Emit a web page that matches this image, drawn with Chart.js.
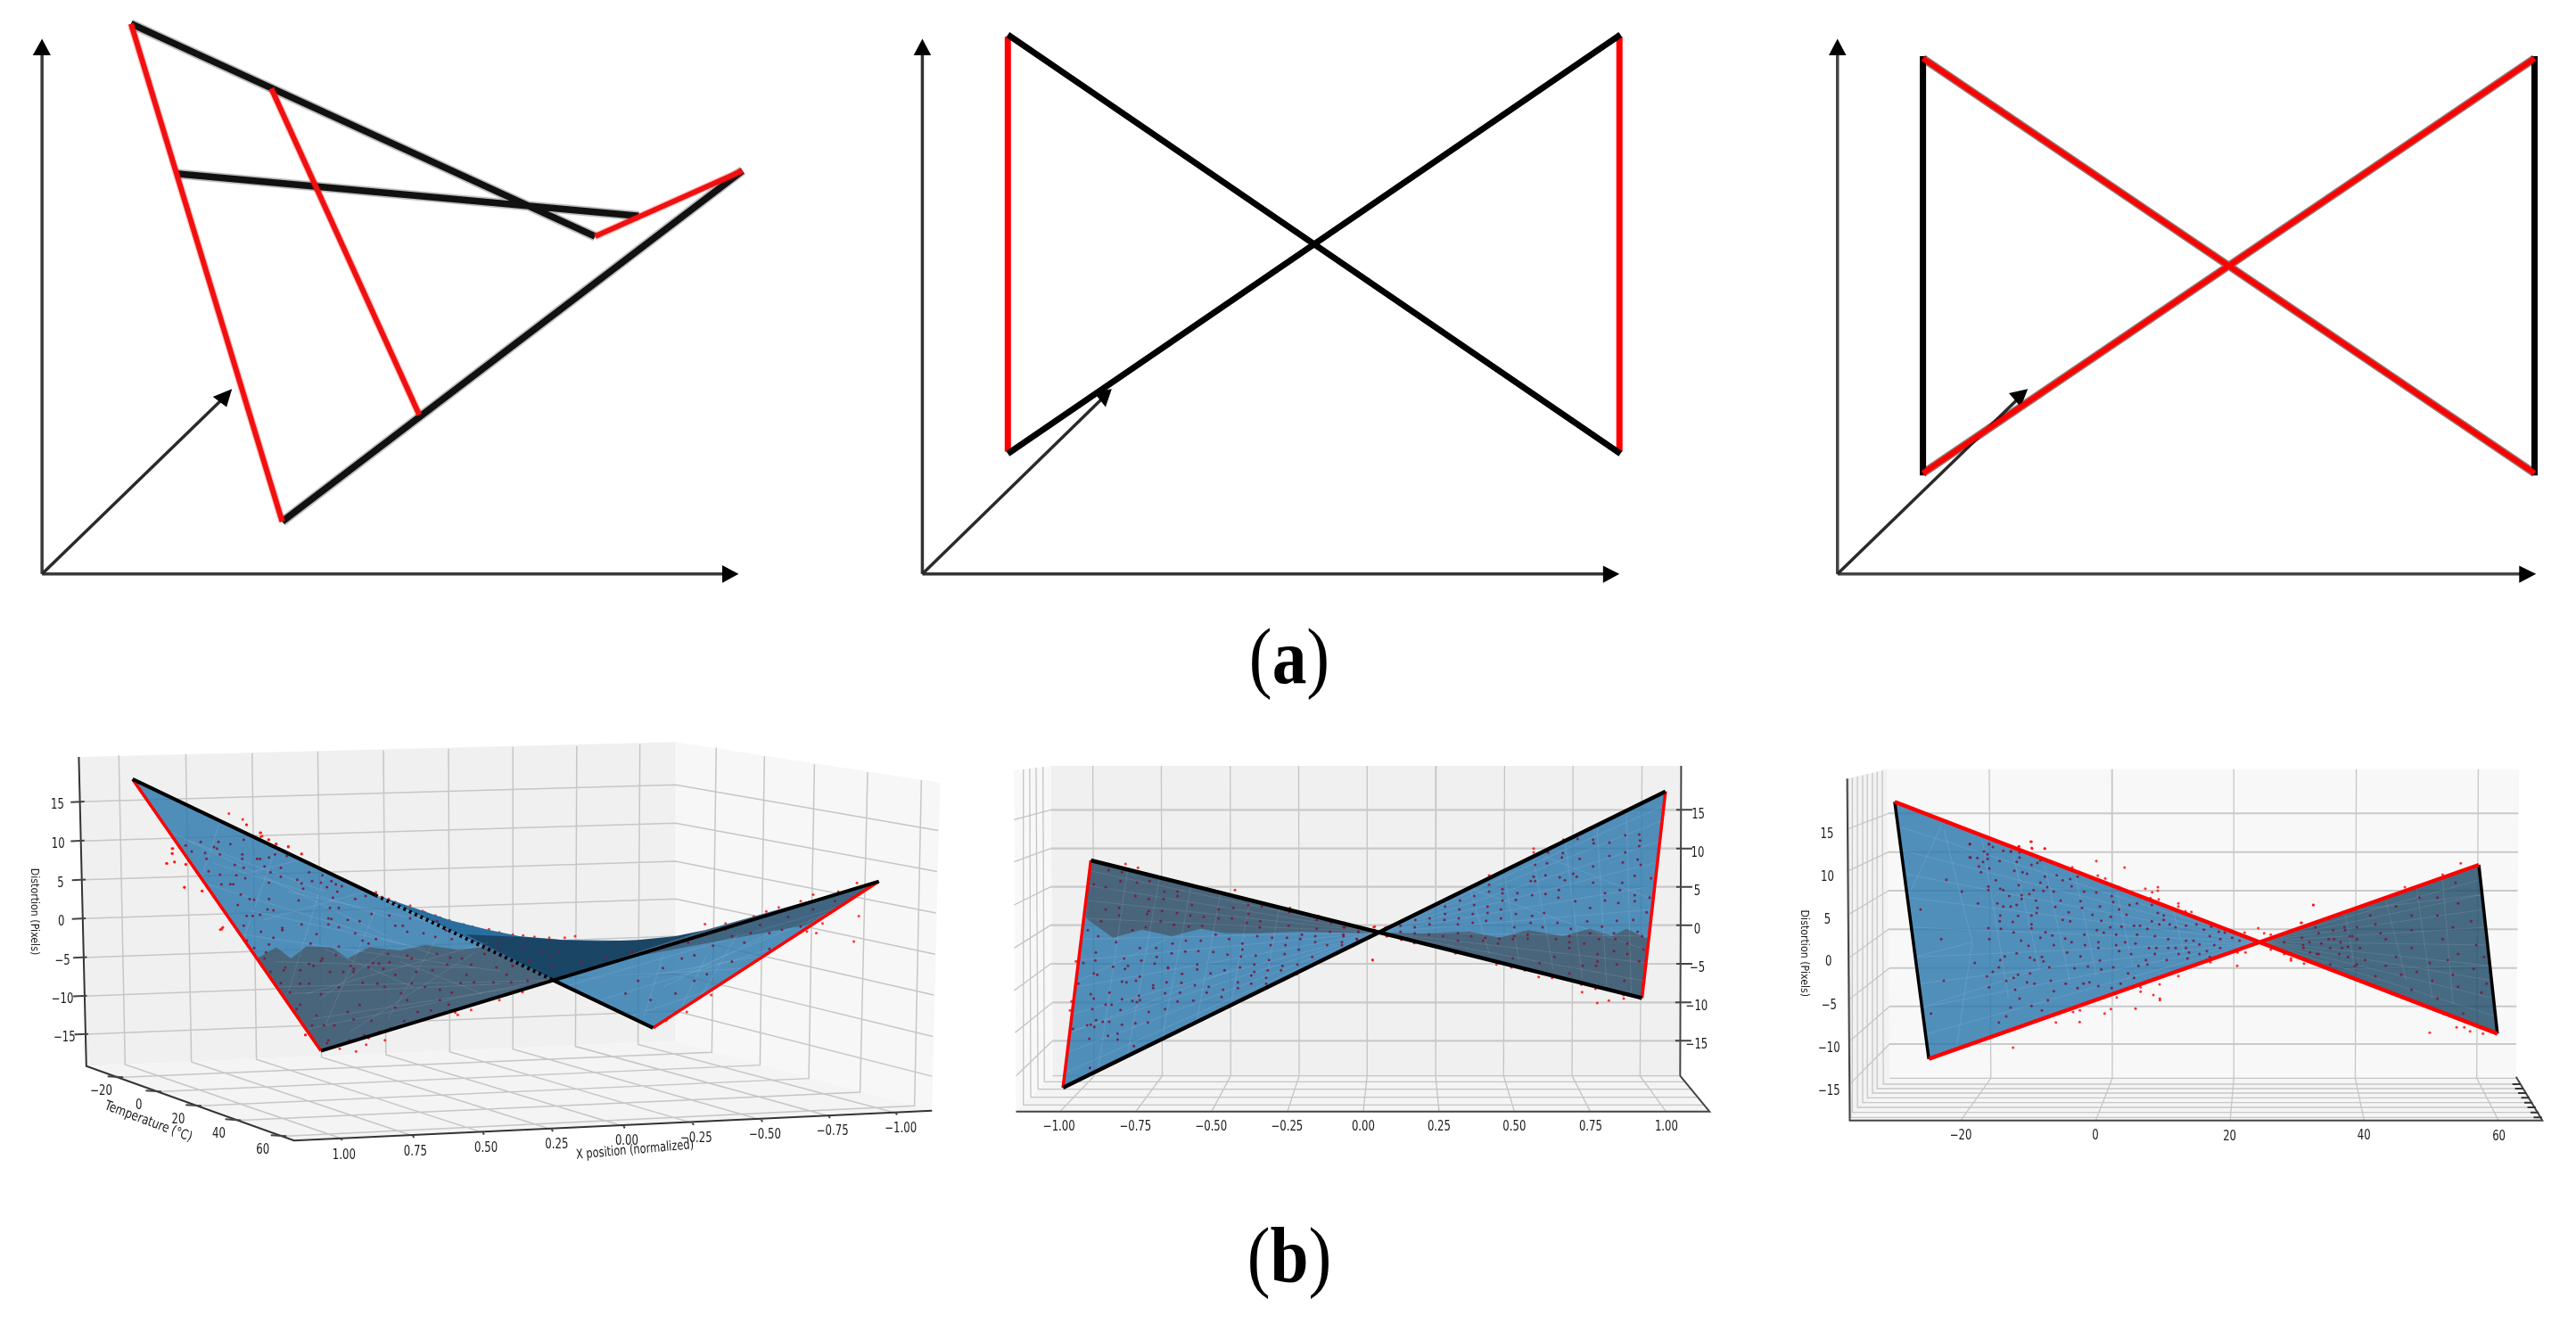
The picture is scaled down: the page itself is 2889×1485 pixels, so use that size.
<!DOCTYPE html>
<html>
<head>
<meta charset="utf-8">
<title>Distortion surface</title>
<script src="https://cdn.jsdelivr.net/npm/chart.js@4/dist/chart.umd.js"></script>
<style>
  html, body { margin: 0; padding: 0; background: #fff; }
  #wrap { position: relative; width: 2889px; height: 1485px; overflow: hidden; }
  canvas { display: block; }
  .tag { position: absolute; left: 1346px; width: 200px; text-align: center; line-height: 100px;
         font-family: "Liberation Serif", serif; font-size: 88px; color: #000; transform: scaleX(0.88); }
</style>
</head>
<body>
<div id="wrap">
  <canvas id="fig" width="2889" height="1485"></canvas>
  <div class="tag" style="top:687px">(<b>a</b>)</div>
  <div class="tag" style="top:1359px">(<b>b</b>)</div>
</div>
<script>
// panel (a), sketches
const a1Axes = [[[77,1328],[77,120]], [[77,1328],[1325,1328]]];
const a1Diag = [[77,1328],[410,920]];
const a1Heads = [[[77,90],[60,128],[93,128]], [[1353,1328],[1323,1308],[1323,1349]], [[425,900],[390,918],[415,942]]];
const a1Black = [[[240,55],[1090,547]], [[517,1207],[1360,395]], [[322,402],[1170,500]]];
const a1Red = [[[240,55],[517,1207]], [[497,205],[768,960]], [[1090,547],[1360,395]]];

const a2Axes = [[[60,1328],[60,120]], [[60,1328],[1395,1328]]];
const a2Diag = [[60,1328],[415,918]];
const a2Heads = [[[60,90],[43,128],[77,128]], [[1422,1328],[1390,1309],[1390,1349]], [[430,900],[395,908],[418,942]]];
const a2Black = [[[227,80],[1424,1050]], [[227,1050],[1424,80]]];
const a2Red = [[[227,85],[227,1045]], [[1422,85],[1422,1045]]];

const a3Axes = [[[125,1328],[125,120]], [[125,1328],[1460,1328]]];
const a3Diag = [[125,1328],[482,918]];
const a3Heads = [[[125,90],[108,128],[142,128]], [[1490,1328],[1457,1309],[1457,1349]], [[497,900],[460,910],[483,942]]];
const a3Black = [[[292,130],[292,1100]], [[1487,130],[1487,1100]]];
const a3Red = [[[292,135],[1487,1095]], [[292,1095],[1487,135]]];

// panel (b), left view
const b1BackWall = [[126,137],[1080,90],[1080,1030],[138,1108]];
const b1SideWall = [[1080,90],[1503,218],[1490,1248],[1080,1030]];
const b1Floor = [[138,1108],[1080,1030],[1490,1248],[470,1342]];
const b1Grid = [
  [[126,278],[1080,225],[1500,368]], [[130,401],[1080,345],[1498,497]], [[133,523],[1080,465],[1496,627]],
  [[133,645],[1080,583],[1495,757]], [[135,767],[1080,700],[1493,885]], [[135,888],[1080,818],[1491,1015]],
  [[137,1008],[1080,935],[1490,1140]],
  [[190,132],[200,1103],[545,1335]], [[297,128],[306,1095],[660,1327]], [[403,125],[410,1087],[772,1317]],
  [[508,120],[514,1080],[882,1307]], [[613,116],[617,1072],[997,1297]], [[717,111],[719,1063],[1107,1287]],
  [[820,106],[820,1055],[1217,1277]], [[922,102],[920,1046],[1325,1265]], [[1023,97],[1020,1040],[1432,1255]],
  [[1145,108],[1138,1065],[197,1143]], [[1222,135],[1215,1105],[258,1188]], [[1302,160],[1293,1147],[322,1233]],
  [[1387,185],[1375,1190],[385,1278]], [[1473,210],[1462,1233],[458,1328]]
];
const b1Frame = [[[126,137],[138,1108],[470,1342],[1490,1248]]];
const b1Ticks = [
  [[113,279],[135,277]], [[113,402],[135,400]], [[115,524],[137,522]], [[115,646],[137,644]], [[117,768],[139,766]],
  [[117,889],[139,887]], [[119,1009],[141,1007]],
  [[172,1140],[197,1143]], [[233,1185],[258,1188]], [[297,1230],[322,1233]], [[360,1275],[385,1278]], [[433,1325],[458,1328]],
  [[545,1335],[547,1341]], [[660,1327],[662,1333]], [[772,1317],[774,1323]], [[882,1307],[884,1313]], [[997,1297],[999,1303]],
  [[1107,1287],[1109,1293]], [[1217,1277],[1219,1283]], [[1325,1265],[1327,1271]], [[1432,1255],[1434,1261]]
];
const b1LeftFace = [[212,207],[513,1060],[885,838]];
const b1LeftShade = [[411,770],[442,735],[465,770],[490,732],[530,735],[556,770],[590,735],[640,745],[680,728],[730,742],[780,735],[885,838],[513,1060]];
const b1RightFace = [[1405,528],[1044,988],[885,838],[1130,680]];
const b1RightShade = [[1130,680],[1405,528],[1290,665],[1150,715],[1000,770],[960,790]];
const b1SaddleMid = [[600,570],[660,610],[720,650],[780,680],[830,700],[900,712],[1000,714],[885,838]];
const b1SaddleDark = [[745,695],[830,702],[900,712],[960,716],[1020,712],[1080,700],[1130,680],[885,838]];
const b1Mesh = [
  [[270,370],[620,700]], [[320,530],[700,760]], [[370,690],[800,810]], [[430,860],[885,838]], [[470,1000],[840,850]],
  [[350,350],[310,590]], [[440,430],[380,760]], [[520,500],[460,880]], [[600,620],[520,980]], [[700,700],[620,960]],
  [[420,650],[620,540]], [[490,880],[780,720]], [[1340,610],[900,860]], [[1250,730],[960,900]], [[1150,860],[1010,950]],
  [[1180,690],[1120,890]], [[1060,760],[1030,950]], [[1300,640],[1240,760]],
  [[300,400],[520,560]], [[340,470],[620,640]], [[400,620],[680,740]], [[440,780],[760,800]], [[470,880],[800,850]], [[500,960],[830,860]],
  [[520,740],[660,860]], [[620,740],[510,900]], [[760,750],[560,1000]], [[640,780],[770,880]], [[400,500],[560,420]], [[460,560],[700,660]],
  [[1320,630],[1100,810]], [[1240,680],[1060,860]], [[1280,740],[1020,830]], [[1200,800],[940,830]], [[1130,760],[1090,920]]
];
const b1EdgesBlack = [[[212,207],[600,571]], [[885,839],[1044,988]], [[513,1060],[1405,528]]];
const b1EdgesDotted = [[[600,571],[885,839]]];
const b1EdgesRed = [[[212,207],[513,1060]], [[1044,988],[1405,528]]];
const b1PointsOutside = [
  [366,315],[388,333],[394,350],[417,375],[417,388],[430,397],[441,410],[461,420],[482,442],[275,425],[275,440],[267,472],
  [279,467],[297,475],[295,547],[323,558],[355,675],[352,680],[1127,662],[1160,660],
  [1185,658],[1205,638],[1225,622],[1245,610],[1280,590],[1300,570],[1340,560],[1370,533],[1373,637],[1365,717],[1290,685],
  [1305,690],[1315,660],[1137,885],[1098,938],[1065,965],[488,1010]
];
const b1PointsInside = [
  [1250,680],[1200,690],[1170,700],[1140,730],[1110,760],[1060,800],[1020,840],[1000,880],[1080,880],[1130,820],
  [1170,780],[1230,740],[1280,670],[880,760],[930,780],[970,770],[1010,750],[1060,730],[1100,720],[1190,720],[1215,665],
  [1260,640],[1300,615],[1335,590],[1270,700],[1110,840],[1040,900],[1090,770],[1160,680],[1230,690]
];
const b1cPointsInside = [
  [410,465],[480,495],[475,505],[530,505],[560,483],[605,465],[600,473],[650,453],[700,490],[710,500],[775,480],[795,482],[825,450],[830,478],
  [890,455],[905,465],[990,450],[1035,462],[1075,465],[1105,485],[1190,495],[1245,490],[1225,520],[1240,545],[1295,540],[1180,545],[1115,545],
  [1090,520],[1025,485],[975,505],[920,510],[850,520],[810,500],[760,495],[710,510],[675,510],[630,510],[575,490],[530,550],[560,550],[600,585],
  [660,562],[740,547],[790,550],[815,560],[905,548],[950,560],[1000,570],[1040,580],[1070,548],[970,640],[1030,620],[925,645],[890,605],[870,582],
  [850,630],[1000,605],[880,675],[835,700],[770,675],[730,622],[690,645],[710,670],[610,690],[585,657],[570,690],[530,620],[518,635],[495,578],
  [465,548],[430,510],[625,740],[620,750],[745,723],[795,712],[695,740],[645,690],
  [195,73],[255,73],[240,90],[250,95],[295,80],[340,65],[145,85],[165,105],[210,110],[260,115],[335,115],[335,130],[385,130],[395,130],[425,125],
  [445,115],[485,120],[215,130],[310,150],[340,160],[410,155],[430,175],[465,160],[222,172],[260,183],[315,185],[345,195],[465,190],[560,175],
  [605,185],[520,200],[265,215],[295,215],[305,215],[535,212],[570,205],[600,210],[635,205],[650,215],[670,222],[655,240],[620,225],[540,230],
  [425,210],[330,250],[360,265],[375,267],[425,265],[525,270],[420,300],[440,303],[320,285],[350,322],[370,322],[395,318],[630,295],[660,295],
  [640,260],[715,265],[750,255],[770,315],[730,340],[690,335],[625,330],[635,332],[535,350],[470,362],[470,370],[340,355],[398,375],[350,405],
  [375,430],[425,418],[440,395],[415,445],[585,383],[625,350],[660,360],[715,380],[740,405],[785,400],[760,415],[850,355],[875,355],[890,375],
  [945,380],[985,392],[1020,370],[1040,400],[990,340],[900,330],[830,320],[660,425],[565,415],
  [1150,450],[1200,440],[1280,430],[1340,440],[1400,440],[1200,415],[1150,420],[1300,470],[1380,490],[1240,470]
];
const b1cPointsOutside = [
  [395,42],[402,53],[423,65],[450,80],[490,88],[535,113],[350,15],[102,95],[100,112],[107,140],[80,145],[145,148],[140,225],[200,238],[265,367],
  [270,360],[785,242],[805,258],[828,265],[850,275],[900,287],[942,305],[950,310],[985,320],[1000,327],[1032,337],[1080,350],[1110,358],[1165,367],
  [1200,377],[1245,385],[1280,388],[1318,392],[1368,395],[1420,395],[1455,390],[548,722],[663,769],[718,778],[752,755],[760,733],[815,740],
  [1052,647],[1060,655],[1105,638],[1200,605],[1278,578]
];
const b1TickZ = ['15','10','5','0','\u22125','\u221210','\u221215'];
const b1TickZPos = [[92,290],[93,413],[97,535],[98,655],[100,778],[100,898],[103,1020]];
const b1TickT = ['\u221220','0','20','40','60'];
const b1TickTPos = [[162,1188],[222,1233],[285,1278],[350,1323],[420,1373]];
const b1TickX = ['1.00','0.75','0.50','0.25','0.00','\u22120.25','\u22120.50','\u22120.75','\u22121.00'];
const b1TickXPos = [[550,1388],[664,1377],[777,1366],[890,1356],[1002,1344],[1113,1335],[1223,1325],[1331,1314],[1440,1305]];

// panel (b), front view
const b2BackWall = [[143,117],[1432,117],[1428,1160],[147,1160]];
const b2SideWall = [[68,132],[143,117],[147,1160],[72,1280]];
const b2Floor = [[147,1160],[1428,1160],[1490,1280],[72,1280]];
const b2GridMajor = [
  [[143,265],[1432,265]], [[143,395],[1432,395]], [[143,524],[1432,524]], [[143,653],[1432,653]],
  [[143,783],[1432,783]], [[147,913],[1430,913]], [[147,1042],[1430,1042]]
];
const b2Grid = [
  [[229,117],[232,1160],[162,1280]], [[369,117],[371,1160],[317,1280]], [[510,117],[511,1160],[472,1280]],
  [[650,117],[651,1160],[627,1280]], [[790,117],[790,1160],[782,1280]], [[931,117],[930,1160],[937,1280]],
  [[1071,117],[1069,1160],[1091,1280]], [[1211,117],[1209,1160],[1246,1280]], [[1352,117],[1348,1160],[1401,1280]],
  [[127,120],[130,1180],[1442,1180]], [[113,123],[117,1205],[1455,1205]], [[100,126],[102,1232],[1468,1232]], [[87,129],[87,1258],[1480,1258]],
  [[143,265],[68,298]], [[143,395],[68,440]], [[143,524],[68,585]], [[143,653],[68,730]], [[143,783],[68,873]],
  [[147,913],[70,1015]], [[147,1042],[72,1160]], [[147,1160],[1428,1160]]
];
const b2Frame = [[[1432,117],[1430,1160],[1490,1280],[72,1280]]];
const b2Ticks = [
  [[1422,265],[1455,265]], [[1422,395],[1455,395]], [[1422,524],[1455,524]], [[1422,653],[1455,653]],
  [[1422,783],[1455,783]], [[1420,913],[1453,913]], [[1420,1042],[1453,1042]]
];
const b2LeftFace = [[225,435],[168,1200],[815,677]];
const b2LeftShade = [[225,435],[815,677],[790,680],[650,675],[560,680],[500,680],[450,665],[390,690],[330,668],[270,695],[215,630]];
const b2RightFace = [[1400,203],[1352,898],[815,677]];
const b2RightShade = [[815,677],[900,680],[1000,675],[1060,695],[1120,670],[1190,690],[1245,665],[1290,690],[1320,665],[1365,700],[1352,898]];
const b2Mesh = [
  [[215,630],[815,677]], [[205,770],[815,677]], [[190,950],[815,677]], [[180,1080],[815,677]], [[220,520],[815,677]],
  [[1395,300],[815,677]], [[1385,440],[815,677]], [[1375,600],[815,677]], [[1360,780],[815,677]],
  [[300,470],[240,1140]], [[430,520],[370,1040]], [[550,570],[510,930]], [[1000,530],[1040,750]], [[1130,430],[1170,800]], [[1260,320],[1280,860]],
  [[200,840],[380,700]], [[190,1010],[520,800]], [[1150,420],[1365,560]], [[1000,530],[1350,730]],
  [[210,700],[815,677]], [[198,860],[815,677]], [[185,1010],[815,677]], [[172,1150],[815,677]], [[222,470],[815,677]], [[218,570],[815,677]],
  [[1398,250],[815,677]], [[1390,370],[815,677]], [[1380,520],[815,677]], [[1368,690],[815,677]], [[1356,840],[815,677]],
  [[365,495],[300,1090]], [[490,545],[440,990]], [[610,595],[580,870]], [[1070,480],[1100,770]], [[1195,375],[1230,830]], [[1320,270],[1330,880]]
];
const b2EdgesBlack = [[[225,435],[1352,898]], [[168,1200],[1400,203]]];
const b2EdgesRed = [[[225,435],[168,1200]], [[1400,203],[1352,898]]];
const b2lPointsInside = [
  [160,78],[205,85],[298,115],[255,120],[348,150],[392,150],[392,165],[345,175],[295,175],[250,165],[200,115],[110,125],[150,135],[195,205],[195,230],
  [150,210],[295,215],[290,225],[340,215],[390,222],[440,195],[435,230],[480,235],[530,210],[580,205],[630,195],[630,225],[675,200],[670,250],[668,270],
  [625,255],[575,240],[530,240],[768,220],[765,265],[860,245],[860,275],[908,255],[905,285],[950,270],[950,295],[945,320],[1000,285],[995,310],[855,300],
  [855,320],[810,295],[805,310],[760,305],[755,330],[710,305],[705,330],[660,300],[610,325],[610,345],[565,310],[520,295],[470,315],[420,315],[375,325],
  [320,340],[265,340],[185,320],[125,300],[90,280],[135,250],[240,280],[285,270],[335,250],[380,262],[430,268],[475,265],
  [117,355],[75,390],[115,382],[175,403],[212,375],[215,410],[225,400],[270,382],[315,392],[322,370],[360,405],[372,358],[418,352],[462,350],[512,353],
  [560,362],[605,368],[655,365],[700,380],[752,360],[800,345],[845,370],[895,330],[795,395],[745,400],[740,415],[695,415],[650,395],[650,420],[602,405],
  [550,415],[503,425],[458,395],[458,412],[407,427],[360,408],[265,436],[110,425],[122,430],[205,453],[220,455],[252,450],[310,465],[355,455],[405,457],
  [450,465],[497,470],[545,480],[595,455],[595,475],[640,460],[690,460],[640,432],[690,440],[400,490],[350,492],[310,475],[262,500],[205,512],[163,490],
  [100,495],[110,510],[150,530],[170,530],[240,518],[255,522],[265,515],[295,555],[350,545],[392,520],[445,517],[490,490],[540,505],[200,548],[105,545],
  [118,583],[140,588],[162,588],[88,600],[100,598],[112,605],[205,598],[250,593],[292,590],[158,635],[190,628],[190,648],[95,645],[245,670],[97,743],
  [40,612],[58,460]
];
const b2lPointsOutside = [
  [217,57],[259,70],[492,140],[585,145],[770,205],[865,232],[953,255],[50,385],[35,520],[30,550],[1048,380],[793,428],[1052,270],[1095,270],[1097,300],
  [1145,310],[1190,322]
];
// and of the right half
const b2rPointsInside = [
  [510,337],[555,352],[510,360],[555,365],[555,390],[605,365],[600,388],[655,372],[660,310],[665,325],[665,270],[708,228],[705,265],[755,245],[758,230],
  [808,183],[860,185],[862,197],[915,195],[968,170],[1015,168],[1018,188],[1015,207],[968,228],[915,240],[860,275],[815,250],[765,322],[805,310],[748,312],
  [793,300],[700,305],[650,325],[960,262],[1010,252],[1020,270],[1000,307],[958,330],[1055,315],[1050,380],[1000,372],[950,355],[900,365],[860,330],[745,355],
  [700,368],[743,380],[800,392],[850,415],[945,398],[1000,392],[900,390],[695,432],[655,442],[600,435],[550,420],[505,410],[505,432],[460,375],[460,405],
  [412,390],[410,420],[362,410],[362,435],[310,450],[310,470],[262,455],[260,480],[212,475],[212,495],[360,455],[408,450],[405,470],[455,435],[455,465],
  [500,458],[550,450],[595,480],[650,465],[690,480],[740,465],[785,485],[840,460],[890,478],[940,458],[995,455],[1040,430],[1010,495],[930,500],[850,500],
  [780,510],[640,505],[595,510],[545,518],[497,515],[450,510],[405,500],[355,510],[308,505],[260,500],[405,525],[490,525],[540,535],[590,520],[640,518],
  [735,520],[780,530],[830,535],[880,520],[935,520],[975,535],[1025,510],[1030,555],[975,570],[930,560],[875,570],[780,550],[730,580],[680,600],[590,585],
  [825,610],[870,610],[940,605],[1015,595],[965,660],[780,635],[875,595],[25,480],[20,510],[15,540],[70,495],[65,520],[125,490]
];
const b2rPointsOutside = [
  [660,215],[660,228],[510,305],[760,185],[118,590],[160,482],[125,478],[165,510],[258,533],[397,568],[535,605],[585,615],[630,625],[677,647],[722,650],
  [820,673],[868,687],[823,698],[874,735],[913,727],[962,708],[963,720],[215,522]
];
const b2TickX = ['\u22121.00','\u22120.75','\u22120.50','\u22120.25','0.00','0.25','0.50','0.75','1.00'];
const b2TickXPos = [[160,1333],[316,1333],[471,1333],[626,1333],[782,1333],[937,1333],[1091,1333],[1247,1333],[1402,1333]];
const b2TickZ = ['15','10','5','0','\u22125','\u221210','\u221215'];
const b2TickZPos = [[1467,282],[1466,410],[1465,540],[1465,668],[1465,797],[1464,927],[1464,1055]];

// panel (b), side view
const b3BackWall = [[235,128],[1458,128],[1452,1168],[240,1168]];
const b3SideWall = [[158,160],[235,128],[240,1168],[163,1310]];
const b3Floor = [[240,1168],[1452,1168],[1503,1310],[163,1310]];
const b3GridMajor = [
  [[238,277],[1456,277]], [[238,407],[1456,407]], [[238,537],[1455,537]], [[238,667],[1455,667]],
  [[240,797],[1454,797]], [[240,926],[1453,926]], [[240,1053],[1452,1053]]
];
const b3Grid = [
  [[433,128],[436,1168],[378,1310]], [[670,128],[671,1168],[639,1310]], [[906,128],[906,1168],[899,1310]],
  [[1143,128],[1141,1168],[1158,1310]], [[1379,128],[1376,1168],[1418,1310]],
  [[226,133],[228,1188],[1458,1188]], [[216,137],[216,1203],[1464,1203]], [[207,141],[207,1218],[1470,1218]],
  [[197,145],[197,1234],[1476,1234]], [[188,149],[188,1250],[1482,1250]], [[178,153],[178,1266],[1488,1266]],
  [[168,157],[168,1283],[1494,1283]], [[160,159],[165,1300],[1500,1300]],
  [[238,277],[158,330]], [[238,407],[158,472]], [[238,537],[158,620]], [[238,667],[160,765]], [[240,797],[160,905]],
  [[240,926],[162,1045]], [[240,1053],[162,1190]], [[240,1168],[1452,1168]]
];
const b3Frame = [[[158,160],[163,1310],[1503,1310],[1452,1163]]];
const b3Ticks = [
  [[1445,1188],[1460,1188]], [[1450,1203],[1466,1203]], [[1456,1218],[1472,1218]], [[1462,1234],[1478,1234]],
  [[1468,1250],[1484,1250]], [[1474,1266],[1490,1266]], [[1480,1283],[1496,1283]], [[1486,1300],[1502,1300]]
];
const b3LeftFace = [[250,238],[316,1103],[956,708]];
const b3RightFace = [[1380,450],[1416,1018],[956,708]];
const b3Mesh = [
  [[262,400],[956,708]], [[275,560],[956,708]], [[290,760],[956,708]], [[303,930],[956,708]], [[1387,550],[956,708]],
  [[1395,660],[956,708]], [[1404,790],[956,708]], [[1410,900],[956,708]],
  [[340,320],[275,560]], [[345,330],[400,710]], [[400,710],[290,760]], [[400,710],[370,1060]], [[480,420],[530,800]], [[600,490],[640,820]],
  [[1200,570],[1240,840]], [[1310,500],[1330,920]], [[530,800],[303,930]], [[1100,610],[1387,550]], [[1120,800],[1404,790]],
  [[255,320],[956,708]], [[268,480],[956,708]], [[282,660],[956,708]], [[296,850],[956,708]], [[310,1020],[956,708]],
  [[1383,500],[956,708]], [[1391,600],[956,708]], [[1400,720],[956,708]], [[1407,840],[956,708]], [[1413,960],[956,708]],
  [[420,370],[470,900]], [[540,450],[590,850]], [[680,540],[710,790]], [[790,610],[810,750]], [[1120,600],[1140,800]], [[1260,530],[1290,900]]
];
const b3EdgesBlack = [[[250,238],[316,1103]], [[1380,450],[1416,1018]]];
const b3EdgesRed = [[[250,238],[1416,1018]], [[316,1103],[1380,450]]];
const b3PointsOutside = [
  [513,372],[515,393],[540,395],[490,388],[1060,585],[1345,445],[1310,483],[1237,525],[1037,645],[1285,1015],[1337,997],[1352,997],[1363,1010],[1388,1018]
];
const b3PointsInside = [
  [1335,510],[1300,560],[1220,590],[1170,620],[1120,660],[1070,680],[1040,720],[1100,700],[1150,730],[1200,700],
  [1250,670],[1300,620],[1330,660],[1375,720],[1340,750],[1285,780],[1220,760],[1160,770],[1110,750],[1070,750],[1180,825],
  [1230,820],[1290,840],[1330,820],[1395,850],[1250,870],[1300,900],[1350,950],[1385,880],[1340,860],[1390,760],
  [1180,650],[1130,690],[1250,620],[1265,560],[1340,580],[1365,640],[1140,790],[1200,790],[1260,810],[1320,770],[1370,800],
  [1310,700],[1250,730],[1190,680],[395,380],[432,380],[475,405],[395,425],[300,600],[350,500],[340,700],[345,840],[320,950],
  [380,540],[405,780]
];
const b3cPointsInside = [
  [178,140],[225,165],[243,140],[255,150],[290,163],[315,165],[345,168],[180,185],[203,187],[237,175],[237,190],[222,200],[208,215],[215,235],[243,222],
  [278,197],[335,200],[345,185],[385,210],[405,203],[415,195],[327,230],[355,235],[370,240],[430,250],[470,245],[490,262],[515,258],[540,250],[265,262],
  [240,283],[240,295],[280,290],[290,295],[342,278],[352,312],[352,325],[378,308],[392,295],[415,270],[425,298],[438,285],[460,300],[310,315],[205,340],
  [270,340],[290,350],[315,350],[335,345],[400,330],[405,355],[402,372],[465,352],[483,330],[520,282],[562,300],[603,303],[550,332],[555,355],[615,350],
  [655,315],[660,335],[680,360],[715,345],[740,340],[790,345],[810,372],[830,380],[830,395],[790,400],[705,378],[652,385],[620,398],[590,378],[510,370],
  [515,400],[490,395],[385,380],[385,410],[340,382],[280,380],[278,400],[322,402],[240,423],[282,425],[325,437],[385,424],[432,437],[455,448],[498,458],
  [563,445],[605,430],[628,438],[670,445],[650,420],[688,418],[730,415],[750,415],[775,425],[815,410],[850,410],[870,420],[905,415],[940,410],[965,428],
  [990,418],[1015,435],[1035,438],[740,445],[800,450],[845,460],[870,490],[905,465],[930,465],[950,478],[985,450],[1020,460],[1060,455],[1085,465],
  [1100,450],[1000,480],[1020,490],[905,490],[845,490],[805,490],[780,490],[735,475],[700,470],[670,480],[610,470],[610,490],[565,480],[520,470],[460,480],
  [415,455],[375,482],[350,465],[243,460],[280,530],[295,518],[335,508],[380,522],[395,530],[420,520],[425,535],[505,505],[550,518],[615,532],[680,500],
  [720,510],[770,530],[800,510],[840,530],[880,510],[915,505],[950,510],[975,500],[985,520],[910,525],[745,550],[710,575],[660,555],[620,562],[575,552],
  [530,558],[445,555],[380,575],[340,580],[325,590],[300,600],[275,555],[255,570],[235,585],[242,622],[330,630],[370,605],[395,610],[450,600],[500,610],
  [560,610],[580,605],[610,618],[655,625],[685,610],[730,590],[775,545],[345,660],[385,685],[440,665],[315,690],[275,740],[300,720],[420,700],[460,635],
  [540,625],[1235,470],[1295,455],[1320,470],[1360,475],[1385,460],[1425,470],[1465,450],[1300,490],[1322,505],[1345,510],[1390,490],[1430,490],[1450,485],
  [1480,460],[1450,520],[1480,545],[1390,545],[1340,420],[1400,430],[1440,430],[1480,420]
];
const b3cPointsOutside = [
  [385,132],[387,155],[430,155],[343,148],[603,197],[698,219],[522,218],[608,246],[633,256],[680,285],[768,290],[810,285],[810,297],[791,302],[813,326],
  [785,322],[879,340],[879,350],[903,366],[923,368],[1148,423],[1168,440],[1190,445],[1333,345],[1292,405],[1102,438],[1105,505],[1078,505],[1077,550],
  [987,538],[879,584],[816,612],[752,622],[752,637],[795,648],[817,660],[817,665],[735,694],[652,695],[672,656],[631,710],[548,700],[525,705],[547,739],
  [467,740],[323,825],[1235,510],[1258,525],[1258,532],[1302,542],[1190,495]
];
const b3TickX = ['\u221220','0','20','40','60'];
const b3TickXPos = [[378,1363],[638,1362],[898,1365],[1158,1363],[1419,1365]];
const b3TickZ = ['15','10','5','0','\u22125','\u221210','\u221215'];
const b3TickZPos = [[119,347],[120,491],[120,635],[122,778],[123,923],[123,1067],[123,1212]];

const FIG_W = 2889, FIG_H = 1485;

// each panel has its own pair of scales, mapped onto the shared canvas
const panels = {
  A1: { left: 0,    top: 0,   fx: 1568 / 960,  fy: 1568 / 760 },
  A2: { left: 1000, top: 0,   fx: 1568 / 900,  fy: 1568 / 760 },
  A3: { left: 1989, top: 0,   fx: 1568 / 900,  fy: 1568 / 760 },
  B1: { left: 0,    top: 800, fx: 1568 / 1100, fy: 2.8 },
  B2: { left: 1100, top: 820, fx: 1568 / 860,  fy: 3 },
  B3: { left: 1980, top: 820, fx: 1568 / 909,  fy: 3 },
  B1c: { left: 160,  top: 920, fx: 3, fy: 3 },
  B2l: { left: 1190, top: 950, fx: 3, fy: 3 },
  B2r: { left: 1500, top: 880, fx: 3, fy: 3 },
  B3c: { left: 2150, top: 900, fx: 3, fy: 3 }
};

const scales = {};
Object.keys(panels).forEach(id => {
  const p = panels[id];
  scales['x' + id] = { type: 'linear', display: false, bounds: 'data', min: -p.left * p.fx, max: (FIG_W - p.left) * p.fx };
  scales['y' + id] = { type: 'linear', display: false, bounds: 'data', reverse: true, min: -p.top * p.fy, max: (FIG_H - p.top) * p.fy };
});

const toXY = pts => pts.map(p => ({ x: p[0], y: p[1] }));

// several polylines in one dataset, split with empty points
function joinLines(lines) {
  const out = [];
  lines.forEach((l, i) => {
    if (i > 0) out.push({ x: null, y: null });
    out.push(...toXY(l));
  });
  return out;
}

const datasets = [];

function addPoly(id, pts, color) {
  datasets.push({
    xAxisID: 'x' + id, yAxisID: 'y' + id, data: toXY(pts.concat([pts[0]])),
    showLine: true, fill: 'shape', backgroundColor: color, borderColor: 'rgba(0,0,0,0)', borderWidth: 0, pointRadius: 0, tension: 0
  });
}

function addLines(id, lines, color, width, dash) {
  datasets.push({
    xAxisID: 'x' + id, yAxisID: 'y' + id, data: joinLines(lines),
    showLine: true, fill: false, borderColor: color, borderWidth: width, borderDash: dash || [], pointRadius: 0, tension: 0,
    borderCapStyle: 'butt', borderJoinStyle: 'miter'
  });
}

function addPoints(id, pts, color, r) {
  datasets.push({
    xAxisID: 'x' + id, yAxisID: 'y' + id, data: toXY(pts),
    showLine: false, pointRadius: r, pointBackgroundColor: color, pointBorderWidth: 0
  });
}

const FACE = 'rgba(44,120,173,0.82)';
const SHADE = 'rgba(72,92,108,0.82)';
const DOT_IN = 'rgba(120,25,65,0.9)';
const DOT_OUT = 'rgba(255,15,15,0.85)';
const DOT_R = 1.5;
const MESH = 'rgba(255,255,255,0.1)';

// (a) sketches, the first one is soft so the lines get a wider pale edge
addLines('A1', a1Axes, '#3a3a3a', 3.5);
addLines('A1', [a1Diag], '#2a2a2a', 3.5);
a1Heads.forEach(h => addPoly('A1', h, '#000'));
addLines('A1', a1Black, 'rgba(0,0,0,0.25)', 11);
addLines('A1', a1Black, '#111', 7.5);
addLines('A1', a1Red, 'rgba(255,0,0,0.25)', 8.5);
addLines('A1', a1Red, '#f01010', 6);

addLines('A2', a2Axes, '#333', 3.5);
addLines('A2', [a2Diag], '#2a2a2a', 3.5);
a2Heads.forEach(h => addPoly('A2', h, '#000'));
addLines('A2', a2Red, '#ff0000', 7);
addLines('A2', a2Black, '#000', 7);

addLines('A3', a3Axes, '#444', 3.5);
addLines('A3', [a3Diag], '#2a2a2a', 3.5);
a3Heads.forEach(h => addPoly('A3', h, '#000'));
addLines('A3', a3Black, '#000', 7);
addLines('A3', a3Red, 'rgba(60,0,0,0.55)', 9);
addLines('A3', a3Red, '#ff0000', 6);

// (b) left view
addPoly('B1', b1BackWall, '#f0f0f0');
addPoly('B1', b1SideWall, '#f7f7f7');
addPoly('B1', b1Floor, '#f4f4f4');
addLines('B1', b1Grid, '#c6c6c6', 1.5);
addLines('B1', b1Frame, '#333', 2);
addLines('B1', b1Ticks, '#444', 2);
addPoints('B1', b1PointsOutside, DOT_OUT, DOT_R);
addPoints('B1c', b1cPointsOutside, DOT_OUT, DOT_R);
addPoly('B1', b1LeftFace, FACE);
addPoly('B1', b1LeftShade, SHADE);
addPoly('B1', b1RightFace, FACE);
addPoly('B1', b1RightShade, 'rgba(60,90,115,0.8)');
addPoly('B1', b1SaddleMid, '#2a6d9f');
addPoly('B1', b1SaddleDark, '#1b4565');
addLines('B1', b1Mesh, MESH, 1);
addPoints('B1', b1PointsInside, DOT_IN, DOT_R);
addPoints('B1c', b1cPointsInside, DOT_IN, DOT_R);
addLines('B1', b1EdgesRed, '#ff0000', 3.5);
addLines('B1', b1EdgesBlack, '#000', 4);
addLines('B1', b1EdgesDotted, '#000', 4, [3, 4]);

// (b) front view
addPoly('B2', b2BackWall, '#f0f0f0');
addPoly('B2', b2SideWall, '#f8f8f8');
addPoly('B2', b2Floor, '#f4f4f4');
addLines('B2', b2Grid, '#c4c4c4', 1.3);
addLines('B2', b2GridMajor, '#c9c9c9', 2.2);
addLines('B2', b2Frame, '#444', 2);
addLines('B2', b2Ticks, '#444', 2);
addPoints('B2l', b2lPointsOutside, DOT_OUT, DOT_R);
addPoints('B2r', b2rPointsOutside, DOT_OUT, DOT_R);
addPoly('B2', b2LeftFace, FACE);
addPoly('B2', b2LeftShade, SHADE);
addPoly('B2', b2RightFace, FACE);
addPoly('B2', b2RightShade, SHADE);
addLines('B2', b2Mesh, MESH, 1);
addPoints('B2l', b2lPointsInside, DOT_IN, DOT_R);
addPoints('B2r', b2rPointsInside, DOT_IN, DOT_R);
addLines('B2', b2EdgesRed, '#ff0000', 3.5);
addLines('B2', b2EdgesBlack, '#000', 4.5);

// (b) side view
addPoly('B3', b3BackWall, '#f8f8f8');
addPoly('B3', b3SideWall, '#f2f2f2');
addPoly('B3', b3Floor, '#f5f5f5');
addLines('B3', b3Grid, '#c6c6c6', 1.3);
addLines('B3', b3GridMajor, '#c9c9c9', 2);
addLines('B3', b3Frame, '#444', 2);
addLines('B3', b3Ticks, '#333', 2);
addPoints('B3', b3PointsOutside, DOT_OUT, DOT_R);
addPoints('B3c', b3cPointsOutside, DOT_OUT, DOT_R);
addPoly('B3', b3LeftFace, FACE);
addPoly('B3', b3RightFace, 'rgba(31,75,104,0.82)');
addLines('B3', b3Mesh, MESH, 1);
addPoints('B3', b3PointsInside, DOT_IN, DOT_R);
addPoints('B3c', b3cPointsInside, DOT_IN, DOT_R);
addLines('B3', b3EdgesBlack, '#000', 3.5);
addLines('B3', b3EdgesRed, '#ff0000', 4.5);

// later datasets go on top
datasets.forEach((d, i) => { d.order = datasets.length - i; });

const textGroups = [
  { id: 'B1', texts: b1TickZ, pos: b1TickZPos, size: 15, squeeze: 0.78 },
  { id: 'B1', texts: b1TickT, pos: b1TickTPos, size: 15, squeeze: 0.78 },
  { id: 'B1', texts: b1TickX, pos: b1TickXPos, size: 15, squeeze: 0.78 },
  { id: 'B1', texts: ['Distortion (Pixels)'], pos: [[55,623]], size: 12, squeeze: 0.92, rot: 90 },
  { id: 'B1', texts: ['Temperature (\u00b0C)'], pos: [[237,1283]], size: 15, squeeze: 0.8, rot: 20.7 },
  { id: 'B1', texts: ['X position (normalized)'], pos: [[1015,1372]], size: 15, squeeze: 0.76, rot: -5 },
  { id: 'B2', texts: b2TickX, pos: b2TickXPos, size: 15, squeeze: 0.78 },
  { id: 'B2', texts: b2TickZ, pos: b2TickZPos, size: 15, squeeze: 0.78 },
  { id: 'B3', texts: b3TickX, pos: b3TickXPos, size: 15, squeeze: 0.78 },
  { id: 'B3', texts: b3TickZ, pos: b3TickZPos, size: 15, squeeze: 0.78 },
  { id: 'B3', texts: ['Distortion (Pixels)'], pos: [[75,748]], size: 12, squeeze: 0.92, rot: 90 }
];

const tickText = {
  id: 'tickText',
  afterDraw(chart) {
    const ctx = chart.ctx;
    textGroups.forEach(g => {
      const xs = chart.scales['x' + g.id], ys = chart.scales['y' + g.id];
      g.texts.forEach((t, i) => {
        ctx.save();
        ctx.translate(xs.getPixelForValue(g.pos[i][0]), ys.getPixelForValue(g.pos[i][1]));
        ctx.rotate((g.rot || 0) * Math.PI / 180);
        ctx.scale(g.squeeze, 1);
        ctx.font = g.size + 'px "DejaVu Sans"';
        ctx.fillStyle = '#1a1a1a';
        ctx.textAlign = 'center';
        ctx.textBaseline = 'middle';
        ctx.fillText(t, 0, 0);
        ctx.restore();
      });
    });
  }
};

new Chart(document.getElementById('fig').getContext('2d'), {
  type: 'scatter',
  data: { datasets },
  options: {
    responsive: false,
    animation: false,
    devicePixelRatio: 1,
    layout: { padding: 0, autoPadding: false },
    scales,
    events: [],
    clip: false,
    plugins: { legend: { display: false }, tooltip: { enabled: false } }
  },
  plugins: [tickText]
});
</script>
</body>
</html>
